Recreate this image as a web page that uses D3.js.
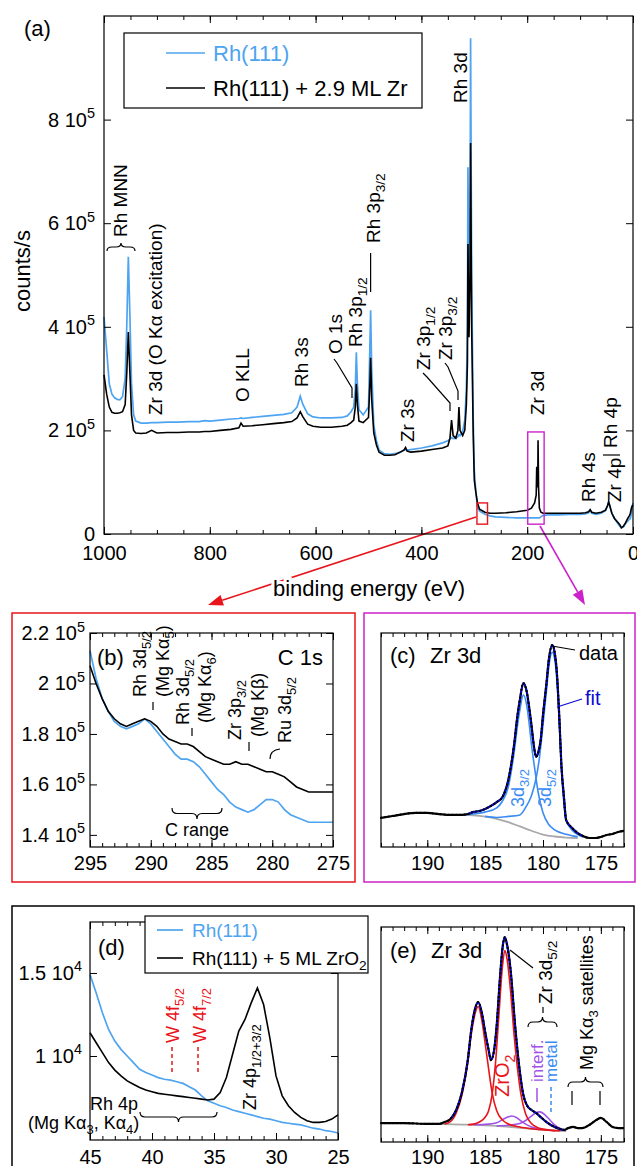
<!DOCTYPE html>
<html>
<head>
<meta charset="utf-8">
<script src="https://cdn.jsdelivr.net/npm/d3@7"></script>
<style>
  body { margin: 0; background: #fff; }
  svg { display: block; font-family: "Liberation Sans", Arial, sans-serif; }
  text { white-space: pre; }
</style>
</head>
<body>
<svg id="fig" width="637" height="1166"></svg>
<script>
// ---------- data: panel (a) survey, counts/s in units of 1e5 ----------
const aEnergy = [1000, 995, 990, 985, 980, 975, 970, 965, 960, 957,
  954, 951, 948, 944, 940, 930, 920, 910, 900, 880,
  860, 840, 820, 810, 800, 780, 760, 745, 741, 737,
  720, 700, 680, 660, 645, 635, 629, 624, 615, 605,
  590, 570, 550, 540, 533, 528, 525, 523, 521, 518,
  510, 500, 497, 496, 494, 490, 485, 480, 470, 460,
  450, 440, 433, 430, 427, 420, 400, 380, 360, 350,
  346, 343, 340, 335, 331, 329, 327, 322, 318, 315,
  313, 312, 310, 308, 307, 305, 302, 300, 297, 294,
  290, 280, 270, 260, 240, 220, 200, 192, 186, 183,
  182, 181, 180, 179.5, 178.5, 177, 174, 170, 160, 140,
  120, 100, 90, 84, 81, 78, 70, 60, 52, 48,
  46, 44, 40, 35, 30, 25, 22, 18, 14, 10,
  7, 5, 3, 1, 0];
const aRh111 = [4.19, 3.55, 2.90, 2.70, 2.63, 2.60, 2.59, 2.65, 3.00, 4.00,
  5.35, 4.20, 2.90, 2.30, 2.18, 2.14, 2.14, 2.15, 2.15, 2.16,
  2.16, 2.17, 2.17, 2.19, 2.18, 2.20, 2.22, 2.23, 2.24, 2.23,
  2.25, 2.27, 2.29, 2.31, 2.34, 2.45, 2.66, 2.50, 2.32, 2.26,
  2.24, 2.24, 2.25, 2.28, 2.36, 2.45, 2.80, 3.51, 2.90, 2.40,
  2.30, 2.45, 3.80, 4.32, 3.20, 2.10, 1.80, 1.62, 1.55, 1.54,
  1.55, 1.58, 1.62, 1.63, 1.62, 1.63, 1.66, 1.70, 1.76, 1.80,
  1.83, 1.86, 1.84, 1.85, 1.88, 1.92, 1.90, 1.98, 2.20, 2.80,
  4.00, 7.08, 4.50, 6.00, 9.57, 5.00, 2.20, 1.24, 0.80, 0.52,
  0.44, 0.38, 0.35, 0.33, 0.32, 0.31, 0.31, 0.31, 0.31, 0.31,
  0.31, 0.31, 0.31, 0.31, 0.31, 0.31, 0.33, 0.36, 0.37, 0.37,
  0.38, 0.38, 0.39, 0.41, 0.46, 0.40, 0.38, 0.40, 0.45, 0.55,
  0.63, 0.55, 0.40, 0.30, 0.22, 0.15, 0.12, 0.14, 0.20, 0.25,
  0.28, 0.30, 0.40, 0.55, 0.60];
const aRhZr = [3.07, 2.70, 2.45, 2.35, 2.33, 2.33, 2.34, 2.36, 2.50, 3.10,
  3.90, 3.10, 2.30, 2.00, 1.95, 1.94, 1.95, 2.00, 1.95, 1.96,
  1.96, 1.97, 1.97, 1.98, 1.98, 2.00, 2.02, 2.05, 2.14, 2.08,
  2.09, 2.11, 2.13, 2.15, 2.17, 2.24, 2.36, 2.26, 2.12, 2.08,
  2.06, 2.06, 2.08, 2.10, 2.15, 2.20, 2.45, 2.90, 2.50, 2.18,
  2.15, 2.25, 3.00, 3.40, 2.60, 1.95, 1.72, 1.58, 1.52, 1.52,
  1.53, 1.58, 1.62, 1.67, 1.60, 1.58, 1.60, 1.63, 1.66, 1.70,
  1.85, 2.20, 1.90, 1.85, 2.00, 2.45, 2.00, 1.90, 2.00, 2.50,
  3.30, 5.60, 3.80, 5.00, 7.55, 4.00, 1.90, 1.04, 0.80, 0.60,
  0.48, 0.42, 0.40, 0.40, 0.41, 0.43, 0.46, 0.50, 0.60, 0.75,
  1.30, 0.90, 1.00, 1.81, 0.90, 0.50, 0.42, 0.40, 0.40, 0.40,
  0.40, 0.40, 0.41, 0.43, 0.47, 0.42, 0.40, 0.42, 0.46, 0.55,
  0.62, 0.55, 0.40, 0.30, 0.24, 0.18, 0.12, 0.15, 0.22, 0.30,
  0.35, 0.40, 0.50, 0.55, 0.56];
const aXMajor = [1000, 800, 600, 400, 200, 0];
const aYMajor = [0, 2, 4, 6, 8];

// ---------- panel (b) C 1s region, units of 1e5 ----------
const bEnergy = [295, 294.5, 294, 293.5, 293, 292.5, 292, 291.5, 291, 290.5,
  290, 289.5, 289, 288.5, 288, 287.5, 287, 286.5, 286, 285.5,
  285, 284.5, 284, 283.5, 283, 282.5, 282, 281.5, 281, 280.5,
  280, 279.5, 279, 278.5, 278, 277.5, 277, 276.5, 276, 275.5, 275];
const bRh111 = [2.13, 2.02, 1.94, 1.89, 1.85, 1.83, 1.82, 1.83, 1.84, 1.86,
  1.84, 1.81, 1.78, 1.75, 1.72, 1.70, 1.70, 1.69, 1.67, 1.64,
  1.61, 1.58, 1.56, 1.53, 1.51, 1.50, 1.49, 1.50, 1.52, 1.54,
  1.54, 1.53, 1.50, 1.48, 1.47, 1.46, 1.45, 1.45, 1.45, 1.45, 1.45];
const bRhZr = [2.07, 2.00, 1.94, 1.89, 1.86, 1.84, 1.83, 1.84, 1.85, 1.86,
  1.85, 1.83, 1.80, 1.78, 1.77, 1.76, 1.76, 1.75, 1.73, 1.71,
  1.70, 1.69, 1.68, 1.68, 1.69, 1.68, 1.68, 1.67, 1.66, 1.65,
  1.65, 1.64, 1.63, 1.61, 1.59, 1.58, 1.57, 1.57, 1.57, 1.57, 1.57];
const bYMajor = [1.4, 1.6, 1.8, 2.0, 2.2];

// ---------- panel (c) Zr 3d, metallic Zr (arb. units) ----------
const cEnergy = [194, 193, 192, 191, 190, 189, 188, 187, 186.5, 186,
  185.5, 185, 184.5, 184, 183.5, 183, 182.5, 182.2, 182, 181.7,
  181.4, 181.2, 181, 180.8, 180.6, 180.4, 180.2, 180, 179.7, 179.5,
  179.2, 179, 178.8, 178.6, 178.4, 178.2, 178, 177.5, 177, 176.5,
  176, 175.5, 175, 174.5, 174, 173.5, 173];
const cData = [13.6, 14.5, 15.4, 15.9, 15.9, 15.4, 15.0, 15.0, 15.4, 16.4,
  16.8, 17.8, 19.2, 21.0, 23.4, 31.3, 47.7, 61.7, 68.7, 76.6,
  72.4, 65.4, 57.0, 47.7, 42.1, 44.4, 50.0, 61.7, 76.6, 87.4,
  94.4, 91.1, 81.3, 61.7, 37.4, 24.0, 12.6, 9.0, 6.5, 5.0,
  4.2, 4.2, 4.7, 5.6, 6.1, 7.0, 7.5];
const cBackground = [[187, 15.0], [186, 14.8], [185, 14.2], [184, 13.2], [183, 11.6], [182, 9.6],
  [181, 7.6], [180, 5.8], [179, 4.9], [178, 4.4], [177, 4.2]];
const c3d32 = [[187, 15.1], [186, 15.5], [185, 16.3], [184, 18.3], [183.5, 21.5], [183, 28],
  [182.5, 44], [182.2, 57], [182, 64], [181.7, 71], [181.4, 66], [181.2, 58], [181, 48],
  [180.7, 36], [180.4, 25], [180, 16], [179.5, 10.5], [179, 8], [178, 6], [177, 4.8]];
const c3d52 = [[185, 14.3], [184, 13.8], [183, 14.3], [182, 15], [181.5, 18.5], [181, 24],
  [180.6, 32], [180.3, 42], [180, 57], [179.7, 73], [179.5, 84], [179.2, 91], [179, 88],
  [178.8, 78], [178.6, 59], [178.4, 36], [178.2, 21], [178, 12.5], [177.5, 8], [177, 5.8], [176.5, 4.6]];

// ---------- panel (d) Zr 4p region, units of 1e4 ----------
const dEnergy = [45, 44.5, 44, 43.5, 43, 42.5, 42, 41.5, 41, 40.5,
  40, 39.5, 39, 38.5, 38, 37.5, 37, 36.5, 36, 35.5,
  35, 34.5, 34, 33.5, 33, 32.5, 32, 31.5, 31, 30.5,
  30, 29.5, 29, 28.5, 28, 27.5, 27, 26.5, 26, 25.5, 25];
const dRh111 = [1.49, 1.38, 1.26, 1.16, 1.09, 1.04, 1.00, 0.96, 0.92, 0.90,
  0.885, 0.87, 0.86, 0.855, 0.845, 0.835, 0.815, 0.795, 0.76, 0.73,
  0.715, 0.70, 0.69, 0.675, 0.665, 0.655, 0.645, 0.635, 0.625, 0.62,
  0.61, 0.60, 0.595, 0.59, 0.585, 0.575, 0.565, 0.56, 0.55, 0.545, 0.536];
const dZrO2 = [1.14, 1.08, 1.02, 0.96, 0.915, 0.88, 0.85, 0.83, 0.81, 0.795,
  0.785, 0.775, 0.77, 0.765, 0.76, 0.755, 0.75, 0.745, 0.74, 0.735,
  0.74, 0.78, 0.87, 1.01, 1.15, 1.22, 1.32, 1.41, 1.31, 1.11,
  0.88, 0.76, 0.70, 0.66, 0.63, 0.61, 0.60, 0.60, 0.605, 0.62, 0.645];
const dYMajor = [1, 1.5];

// ---------- panel (e) Zr 3d, ZrO2 (arb. units) ----------
const eEnergy = [194, 192, 190, 189, 188.5, 188, 187.5, 187, 186.5, 186.2,
  185.9, 185.6, 185.3, 185, 184.7, 184.5, 184.2, 184, 183.7, 183.5,
  183.3, 183.1, 182.8, 182.4, 182, 181.7, 181.4, 181, 180.6, 180.2,
  179.7, 179, 178.5, 178.2, 177.8, 177.4, 177, 176.6, 176, 175.5,
  175, 174.5, 174, 173.5, 173];
const eData = [8.8, 8.8, 8.4, 8.4, 9.3, 10.7, 14.9, 23.3, 38.1, 52.1,
  61.4, 65.1, 60.5, 51.2, 42.8, 38.1, 43.7, 54.4, 77.7, 90.2,
  95.3, 91.6, 80.0, 53.5, 32.6, 21.9, 17.2, 14.9, 13.5, 11.6,
  9.3, 7.0, 6.0, 5.6, 6.5, 7.0, 6.5, 6.5, 7.9, 9.8,
  11.2, 9.3, 7.0, 6.5, 6.5];
const eBackground = [[189, 8.4], [187, 8.1], [186, 8.0], [184, 7.5], [182, 6.6], [180, 5.6], [179, 5.3], [178, 5.1]];
const eZrO2a = [[188.5, 8.4], [188, 9.5], [187.5, 13.5], [187, 22], [186.5, 37], [186.2, 50], [185.9, 59],
  [185.6, 63], [185.3, 57], [185, 46], [184.7, 34], [184.4, 23], [184, 14.5], [183.5, 10.2], [183, 8.4],
  [182, 7.0], [181, 6.2], [180, 5.7], [179, 5.3]];
const eZrO2b = [[186.5, 8.0], [186, 8.3], [185.5, 9.3], [185, 11.5], [184.7, 14.5], [184.4, 22], [184.1, 37],
  [183.8, 60], [183.5, 82], [183.3, 89], [183.1, 85], [182.8, 70], [182.5, 50], [182.2, 34], [181.9, 22],
  [181.5, 13], [181, 8.6], [180.5, 6.8], [180, 6.0], [179.5, 5.6], [179, 5.3], [178.5, 5.2]];
const eInterf1 = [[186, 8.0], [185, 8.2], [184, 9.0], [183.5, 10.4], [183, 11.7], [182.7, 12.1], [182.3, 11.4],
  [182, 10.2], [181.5, 8.3], [181, 7.0], [180.5, 6.3], [180, 5.8]];
const eInterf2 = [[184, 7.5], [183, 7.8], [182, 8.6], [181.5, 10], [181, 12], [180.6, 13.6], [180.3, 14.0],
  [180, 13.4], [179.5, 10.8], [179, 8], [178.5, 6.2], [178, 5.3]];
const zrXMajor = [190, 185, 180, 175];

// ---------- colours ----------
const BLUE = "#4ea4f0", DARKBLUE = "#0a0ad6", COMP = "#3a8cf4", RED = "#e8141a",
  MAG = "#cc22cc", PURPLE = "#a052e6", GREY = "#a9a9a9";

const svg = d3.select("#fig");

// ---------- helpers ----------
// parts: plain strings or [string, "sub" | "sup"]
function rich(t, parts, size) {
  let off = 0;
  parts.forEach(p => {
    const s = Array.isArray(p) ? p[0] : p;
    const kind = Array.isArray(p) ? p[1] : null;
    const want = kind === "sub" ? size * 0.28 : kind === "sup" ? -size * 0.42 : 0;
    const ts = t.append("tspan").text(s).attr("font-size", kind ? size * 0.72 : size);
    if (want - off !== 0) ts.attr("dy", want - off);   // leave the parent's dy alone otherwise
    off = want;
  });
}
function hlabel(g, x, yc, parts, size, color, anchor) {
  const t = g.append("text").attr("x", x).attr("y", yc + size * 0.35)
    .attr("font-size", size).attr("fill", color || "#000").attr("text-anchor", anchor || "start");
  rich(t, typeof parts === "string" ? [parts] : parts, size);
  return t;
}
function vlabel(g, cx, yb, parts, size, color) {
  const t = g.append("text").attr("transform", `translate(${cx + size * 0.35},${yb}) rotate(-90)`)
    .attr("font-size", size).attr("fill", color || "#000");
  rich(t, typeof parts === "string" ? [parts] : parts, size);
  return t;
}
function seg(g, d, color, w, dash) {
  const p = g.append("path").attr("d", d).attr("fill", "none").attr("stroke", color || "#000").attr("stroke-width", w || 1.2);
  if (dash) p.attr("stroke-dasharray", dash);
  return p;
}
function bracePath(x1, x2, y, d) {
  const xm = (x1 + x2) / 2, h = d / 2;
  return `M${x1},${y}Q${x1},${y + h} ${x1 + 5},${y + h}L${xm - 5},${y + h}Q${xm},${y + h} ${xm},${y + d}` +
    `Q${xm},${y + h} ${xm + 5},${y + h}L${x2 - 5},${y + h}Q${x2},${y + h} ${x2},${y}`;
}
function axis(g, gen, scale, vals, len, at, pad) {
  const ag = g.append("g").attr("transform", at)
    .call(gen(scale).tickValues(vals).tickSize(-len).tickSizeOuter(0)
      .tickPadding(pad == null ? 6 : pad).tickFormat(""));
  ag.select(".domain").remove();
  ag.attr("font-family", null).attr("font-size", 20);
  ag.selectAll(".tick line").attr("stroke", "#000");
  return ag;
}
function labelTicks(ag, fn) {
  ag.selectAll(".tick text").each(function (d) { rich(d3.select(this), fn(d), 20); });
}
const sci = e => v => v === 0 ? ["0"] : [`${+v.toFixed(1)} 10`, [String(e), "sup"]];

function frame(g, x, y, o) {
  const [xl, xr] = x.range(), [yb, yt] = y.range();
  axis(g, d3.axisBottom, x, o.xMinor, 4, `translate(0,${yb})`);
  axis(g, d3.axisTop, x, o.xMinor, 4, `translate(0,${yt})`);
  const xb = axis(g, d3.axisBottom, x, o.xMajor, 7, `translate(0,${yb})`, o.xPad);
  axis(g, d3.axisTop, x, o.xMajor, 7, `translate(0,${yt})`);
  labelTicks(xb, v => [String(v)]);
  if (o.halo) xb.selectAll(".tick text").attr("stroke", "#fff").attr("stroke-width", 6).attr("paint-order", "stroke");
  if (o.yMajor) {
    const yl = axis(g, d3.axisLeft, y, o.yMajor, 7, `translate(${xl},0)`, o.yPad);
    axis(g, d3.axisRight, y, o.yMajor, 7, `translate(${xr},0)`);
    labelTicks(yl, o.yFmt);
  }
  g.append("rect").attr("x", xl).attr("y", yt).attr("width", xr - xl).attr("height", yb - yt)
    .attr("fill", "none").attr("stroke", "#000").attr("stroke-width", 1.2);
}
function arrow(g, p, q, color) {
  const dx = q[0] - p[0], dy = q[1] - p[1], L = Math.hypot(dx, dy), ux = dx / L, uy = dy / L;
  const hl = 15, hw = 5.5, bx = q[0] - ux * hl, by = q[1] - uy * hl;
  g.append("line").attr("x1", p[0]).attr("y1", p[1]).attr("x2", bx).attr("y2", by)
    .attr("stroke", color).attr("stroke-width", 1.6);
  g.append("path").attr("d", `M${q[0]},${q[1]}L${bx - uy * hw},${by + ux * hw}L${bx + uy * hw},${by - ux * hw}Z`)
    .attr("fill", color);
}
function dotsAlong(g, path, step) {
  const node = path.node(), L = node.getTotalLength();
  const pts = d3.range(0, L, step).map(l => node.getPointAtLength(l));
  g.selectAll(null).data(pts).join("circle")
    .attr("cx", p => p.x).attr("cy", p => p.y).attr("r", 1.1).attr("fill", "#000");
}

// ---------- connecting arrows (under everything) ----------
const gArr = svg.append("g");
arrow(gArr, [476, 517], [208, 605], RED);
arrow(gArr, [540, 526], [585, 605], MAG);

// ================= panel (a) =================
const xa = d3.scaleLinear([1000, 0], [104, 633]);
const ya = d3.scaleLinear([0, 10], [534, 16]);
const ga = svg.append("g");
const lineA = d3.line().x((d, i) => xa(aEnergy[i])).y(d => ya(d));
ga.append("path").attr("d", lineA(aRh111)).attr("fill", "none").attr("stroke", BLUE).attr("stroke-width", 1.7);
ga.append("path").attr("d", lineA(aRhZr)).attr("fill", "none").attr("stroke", "#000").attr("stroke-width", 1.6);

ga.append("rect").attr("x", xa(295)).attr("y", ya(0.6)).attr("width", xa(275) - xa(295))
  .attr("height", ya(0.19) - ya(0.6)).attr("fill", "none").attr("stroke", RED).attr("stroke-width", 1.4);
ga.append("rect").attr("x", xa(199)).attr("y", ya(1.97)).attr("width", xa(168) - xa(199))
  .attr("height", ya(0.19) - ya(1.97)).attr("fill", "none").attr("stroke", MAG).attr("stroke-width", 1.4);

frame(ga, xa, ya, {
  xMajor: aXMajor, xMinor: d3.range(0, 1001, 50), xPad: 12, halo: true,
  yMajor: aYMajor, yPad: 9, yFmt: sci(5)
});

hlabel(ga, 24, 28, "(a)", 22);
vlabel(ga, 22, 312, "counts/s", 22);
hlabel(ga, 369, 588, "binding energy (eV)", 22, "#000", "middle")
  .attr("stroke", "#fff").attr("stroke-width", 6).attr("paint-order", "stroke");

// legend (a)
ga.append("rect").attr("x", 124).attr("y", 33).attr("width", 298).attr("height", 75)
  .attr("fill", "#fff").attr("stroke", "#000").attr("stroke-width", 1.2);
seg(ga, "M166,53H205", BLUE, 1.7);
hlabel(ga, 213, 53, "Rh(111)", 22, BLUE);
seg(ga, "M166,88H205", "#000", 1.6);
hlabel(ga, 213, 88, "Rh(111) + 2.9 ML Zr", 22);

// annotations (a)
const A = 19;
vlabel(ga, 120, 237, "Rh MNN", A);
seg(ga, bracePath(107, 135, 251, -8));
vlabel(ga, 155, 415, "Zr 3d (O Kα excitation)", A);
vlabel(ga, 242, 402, "O KLL", A);
vlabel(ga, 301, 387, "Rh 3s", A);
vlabel(ga, 335, 354, "O 1s", A);
seg(ga, "M334,359L337,363L352,388V398");
vlabel(ga, 355, 347, ["Rh 3p", ["1/2", "sub"]], A);
vlabel(ga, 373, 243, ["Rh 3p", ["3/2", "sub"]], A);
seg(ga, `M${xa(496)},253V292`);
vlabel(ga, 407, 442, "Zr 3s", A);
vlabel(ga, 423, 370, ["Zr 3p", ["1/2", "sub"]], A);
seg(ga, "M423,373L427,377L450,403V411");
vlabel(ga, 445, 360, ["Zr 3p", ["3/2", "sub"]], A);
seg(ga, "M445,363L448,367L458,391V400");
vlabel(ga, 460, 103, "Rh 3d", A);
vlabel(ga, 537, 415, "Zr 3d", A);
vlabel(ga, 588, 502, "Rh 4s", A);
vlabel(ga, 610, 448, "Rh 4p", A);
seg(ga, "M603,455H620");
vlabel(ga, 614, 502, "Zr 4p", A);

// ================= panel (b) =================
svg.append("rect").attr("x", 12).attr("y", 613).attr("width", 343).attr("height", 269)
  .attr("fill", "none").attr("stroke", RED).attr("stroke-width", 1.5);
const xb = d3.scaleLinear([295, 275], [90, 333]);
const yb = d3.scaleLinear([1.352, 2.2], [847, 633]);
const gb = svg.append("g");
const lineB = d3.line().x((d, i) => xb(bEnergy[i])).y(d => yb(d));
gb.append("path").attr("d", lineB(bRh111)).attr("fill", "none").attr("stroke", BLUE).attr("stroke-width", 1.7);
gb.append("path").attr("d", lineB(bRhZr)).attr("fill", "none").attr("stroke", "#000").attr("stroke-width", 1.6);
frame(gb, xb, yb, {
  xMajor: [295, 290, 285, 280, 275], xMinor: d3.range(275, 296, 1), xPad: 9,
  yMajor: bYMajor, yPad: 5, yFmt: sci(5)
});
hlabel(gb, 97, 657, "(b)", 22);
hlabel(gb, 323, 657, "C 1s", 22, "#000", "end");
const B = 18;
vlabel(gb, 140, 697, ["Rh 3d", ["5/2", "sub"]], B);
vlabel(gb, 163, 697, ["(Mg Kα", ["5", "sub"], ")"], B);
seg(gb, "M153,702V710");
vlabel(gb, 183, 725, ["Rh 3d", ["5/2", "sub"]], B);
vlabel(gb, 205, 723, ["(Mg Kα", ["6", "sub"], ")"], B);
seg(gb, "M192,728V736");
vlabel(gb, 235, 740, ["Zr 3p", ["3/2", "sub"]], B);
vlabel(gb, 258, 737, "(Mg Kβ)", B);
seg(gb, "M249,742V751");
vlabel(gb, 285, 743, ["Ru 3d", ["5/2", "sub"]], B);
seg(gb, "M270,759Q270,750 280,749");
seg(gb, bracePath(172, 222, 808, 11));
hlabel(gb, 197, 830, "C range", 18, "#000", "middle");

// ================= panel (c) =================
svg.append("rect").attr("x", 364).attr("y", 613).attr("width", 271).attr("height", 269)
  .attr("fill", "none").attr("stroke", MAG).attr("stroke-width", 1.5);
const xc = d3.scaleLinear([194, 173], [381, 624]);
const yc = d3.scaleLinear([0, 100], [847, 633]);
const gc = svg.append("g");
const pairLineC = d3.line().x(d => xc(d[0])).y(d => yc(d[1])).curve(d3.curveMonotoneX);
const dataLineC = d3.line().x((d, i) => xc(cEnergy[i])).y(d => yc(d)).curve(d3.curveMonotoneX);
seg(gc, pairLineC(cBackground), GREY, 1.8);
seg(gc, pairLineC(c3d32), COMP, 1.6);
seg(gc, pairLineC(c3d52), COMP, 1.6);
const cPath = seg(gc, dataLineC(cData), "#000", 2.2);
seg(gc, pairLineC(cEnergy.map((e, i) => [e, cData[i]]).filter(d => d[0] <= 186.5 && d[0] >= 176.5)), DARKBLUE, 1.7);
dotsAlong(gc, cPath, 4);
frame(gc, xc, yc, { xMajor: zrXMajor, xMinor: d3.range(173, 195, 1), xPad: 9 });
hlabel(gc, 390, 655, "(c)", 22);
hlabel(gc, 430, 655, "Zr 3d", 22);
seg(gc, "M552,646L575,650");
hlabel(gc, 579, 653, "data", 20);
seg(gc, "M557,707L582,699", DARKBLUE);
hlabel(gc, 585, 698, "fit", 20, DARKBLUE);
vlabel(gc, 518, 807, ["3d", ["3/2", "sub"]], 18, COMP);
vlabel(gc, 545, 807, ["3d", ["5/2", "sub"]], 18, COMP);

// ================= panels (d) + (e) =================
svg.append("rect").attr("x", 12).attr("y", 906).attr("width", 622).attr("height", 280)
  .attr("fill", "none").attr("stroke", "#000").attr("stroke-width", 1.5);

const xd = d3.scaleLinear([45, 25], [90, 338]);
const yd = d3.scaleLinear([0.494, 1.807], [1140, 922]);
const gd = svg.append("g");
const lineD = d3.line().x((d, i) => xd(dEnergy[i])).y(d => yd(d));
gd.append("path").attr("d", lineD(dRh111)).attr("fill", "none").attr("stroke", BLUE).attr("stroke-width", 1.7);
gd.append("path").attr("d", lineD(dZrO2)).attr("fill", "none").attr("stroke", "#000").attr("stroke-width", 1.6);
frame(gd, xd, yd, {
  xMajor: [45, 40, 35, 30, 25], xMinor: d3.range(25, 46, 1), xPad: 10,
  yMajor: dYMajor, yPad: 8, yFmt: sci(4)
});
hlabel(gd, 98, 947, "(d)", 22);
const D = 18;
vlabel(gd, 173, 1043, ["W 4f", ["5/2", "sub"]], D, RED);
vlabel(gd, 200, 1043, ["W 4f", ["7/2", "sub"]], D, RED);
seg(gd, "M172,1047V1072", RED, 1.5, "4,3");
seg(gd, "M198,1047V1072", RED, 1.5, "4,3");
vlabel(gd, 250, 1110, ["Zr 4p", ["1/2+3/2", "sub"]], D);
hlabel(gd, 90, 1104, "Rh 4p", D);
hlabel(gd, 28, 1123, ["(Mg Kα", ["3", "sub"], ", Kα", ["4", "sub"], ")"], D);
seg(gd, bracePath(140, 217, 1112, 10));

// legend (d)
gd.append("rect").attr("x", 145).attr("y", 916).attr("width", 223).attr("height", 57)
  .attr("fill", "#fff").attr("stroke", "#000").attr("stroke-width", 1.2);
seg(gd, "M157,930H183", BLUE, 1.7);
hlabel(gd, 192, 930, "Rh(111)", 19, BLUE);
seg(gd, "M157,958H183", "#000", 1.6);
hlabel(gd, 192, 958, ["Rh(111) + 5 ML ZrO", ["2", "sub"]], 19);

// panel (e)
const xe = d3.scaleLinear([194, 173], [381, 624]);
const ye = d3.scaleLinear([0, 100], [1142, 927]);
const ge = svg.append("g");
const pairLineE = d3.line().x(d => xe(d[0])).y(d => ye(d[1])).curve(d3.curveMonotoneX);
const dataLineE = d3.line().x((d, i) => xe(eEnergy[i])).y(d => ye(d)).curve(d3.curveMonotoneX);
seg(ge, pairLineE(eBackground), GREY, 1.8);
seg(ge, pairLineE(eInterf1), PURPLE, 1.6);
seg(ge, pairLineE(eInterf2), PURPLE, 1.6);
seg(ge, pairLineE(eZrO2a), RED, 1.6);
seg(ge, pairLineE(eZrO2b), RED, 1.6);
const ePath = seg(ge, dataLineE(eData), "#000", 2.2);
seg(ge, pairLineE(eEnergy.map((e, i) => [e, eData[i]]).filter(d => d[0] <= 188 && d[0] >= 178)), DARKBLUE, 1.7);
dotsAlong(ge, ePath, 4);
frame(ge, xe, ye, { xMajor: zrXMajor, xMinor: d3.range(173, 195, 1), xPad: 8 });
hlabel(ge, 390, 950, "(e)", 22);
hlabel(ge, 431, 950, "Zr 3d", 22);
vlabel(ge, 502, 1097, ["ZrO", ["2", "sub"]], 20, RED);
seg(ge, "M510,950L533,968");
vlabel(ge, 545, 1004, ["Zr 3d", ["5/2", "sub"]], 19);
seg(ge, "M543,1007V1013");
seg(ge, bracePath(528, 557, 1027, -10));
vlabel(ge, 537, 1082, "interf.", 17, PURPLE);
seg(ge, "M537,1088V1102", PURPLE, 1.5);
vlabel(ge, 551, 1082, "metal", 17, COMP);
seg(ge, "M551,1087V1115", COMP, 1.5, "4,3");
vlabel(ge, 587, 1070, ["Mg Kα", ["3", "sub"], " satellites"], 18);
seg(ge, bracePath(568, 603, 1087, -10));
seg(ge, "M572,1091V1105");
seg(ge, "M600,1091V1105");
</script>
</body>
</html>
